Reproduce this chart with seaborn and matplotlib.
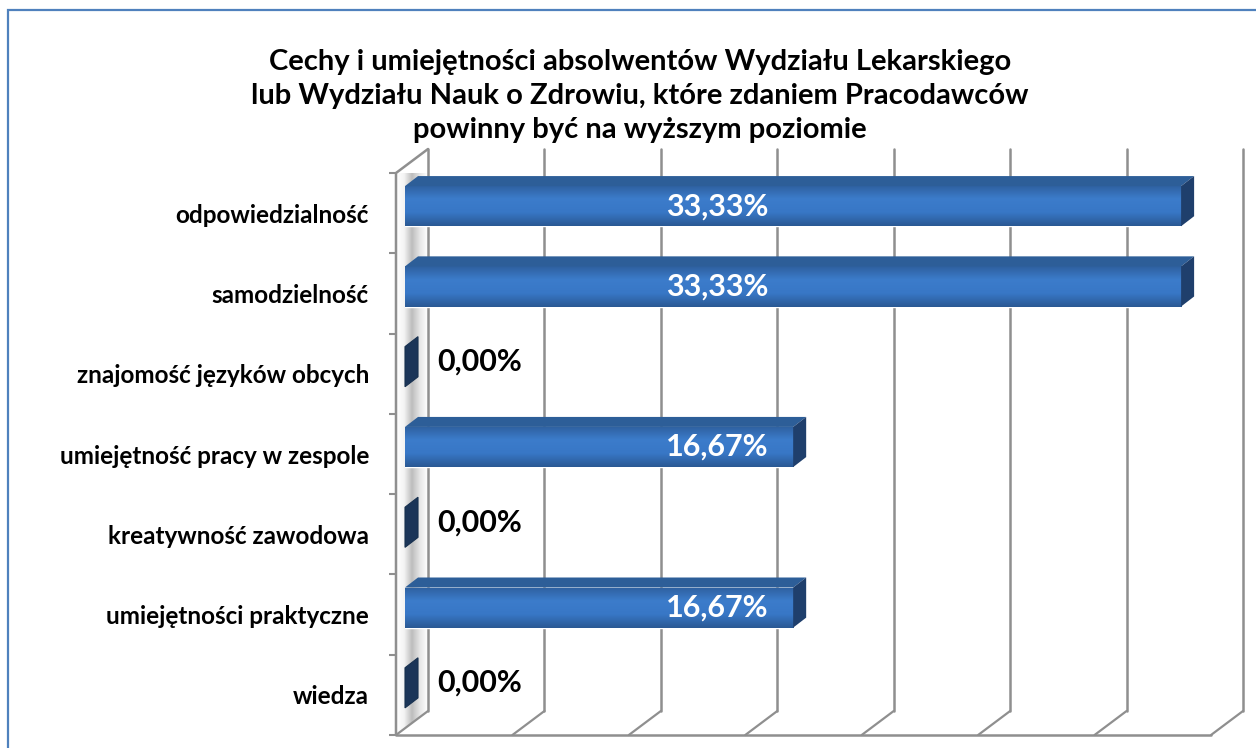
import matplotlib.pyplot as plt
import numpy as np
import pandas as pd
import seaborn as sns
from matplotlib.colors import LinearSegmentedColormap
from matplotlib.patches import Polygon, Rectangle

# dane z wykresu
categories = [
    "odpowiedzialność",
    "samodzielność",
    "znajomość języków obcych",
    "umiejętność pracy w zespole",
    "kreatywność zawodowa",
    "umiejętności praktyczne",
    "wiedza",
]
values = [33.33, 33.33, 0.00, 16.67, 0.00, 16.67, 0.00]
grid_values = [0, 5, 10, 15, 20, 25, 30, 35]
title = ("Cechy i umiejętności absolwentów Wydziału Lekarskiego\n"
         "lub Wydziału Nauk o Zdrowiu, które zdaniem Pracodawców\n"
         "powinny być na wyższym poziomie")

W, H = 1256, 748
sns.set_theme(style="white")
plt.rcParams["font.family"] = ["Lato", "DejaVu Sans"]
plt.rcParams["text.color"] = "black"

fig = plt.figure(figsize=(W / 100, H / 100), dpi=100)
fig.patch.set_facecolor("white")

# przednia płaszczyzna "pudełka" 3D w pikselach
x0_px, x1_px = 396, 1211
ytop_px, ybot_px = 173, 735
ax = fig.add_axes([x0_px / W, 1 - ybot_px / H, (x1_px - x0_px) / W, (ybot_px - ytop_px) / H])
xmax = grid_values[-1]
n = len(categories)
sx = (x1_px - x0_px) / xmax
sy = (ybot_px - ytop_px) / n


def off(dx_px, dy_px):
    return dx_px / sx, dy_px / sy


wdx, wdy = off(32, -24)   # głębokość ściany
bdx, bdy = off(9, -7)     # przód słupka względem przodu pudełka
ddx, ddy = off(13, -10)   # głębokość słupka

df = pd.DataFrame({"cecha": categories, "wartosc": values})
sns.barplot(data=df, y="cecha", x="wartosc", orient="h", width=0.5,
            color="#3572c0", saturation=1, ax=ax, zorder=5)

ax.set_xlim(0, xmax)
ax.set_ylim(n - 0.5, -0.5)
for s in ax.spines.values():
    s.set_visible(False)
ax.set_xticks([])
ax.set_xlabel("")
ax.set_ylabel("")
ax.patch.set_alpha(0)

grid_c = "#8f8f8f"
ybot, ytop = n - 0.5, -0.5

# lewa ściana z cieniem
wall = Polygon([(0, ybot), (0, ytop), (wdx, ytop + wdy), (wdx, ybot + wdy)],
               closed=True, facecolor="none", edgecolor="none", clip_on=False)
ax.add_patch(wall)
shade = LinearSegmentedColormap.from_list("sh", ["#ffffff", "#f4f4f4", "#bdbdbd", "#e6e6e6", "#ffffff"])
im = ax.imshow(np.linspace(0, 1, 50)[None, :], cmap=shade, aspect="auto",
               extent=(0, wdx, ybot + 0.05, ytop + wdy), clip_on=True, zorder=1)
im.set_clip_path(wall)
ax.plot([0, 0, wdx], [ybot, ytop, ytop + wdy], color=grid_c, lw=1.8, clip_on=False, zorder=2)

# siatka na tylnej ścianie i podłodze
for v in grid_values:
    ax.plot([v + wdx, v + wdx], [ybot + wdy, ytop + wdy], color=grid_c, lw=1.8,
            clip_on=False, zorder=2)
    ax.plot([v, v + wdx], [ybot, ybot + wdy], color=grid_c, lw=1.6, clip_on=False, zorder=2)
ax.plot([0, xmax], [ybot, ybot], color=grid_c, lw=1.8, clip_on=False, zorder=2)
ax.set_xlim(0, xmax)
ax.set_ylim(n - 0.5, -0.5)

# słupki 3D
front = LinearSegmentedColormap.from_list("fr", ["#2e609f", "#3c7ccb", "#3877c6", "#2a5994"])
for p in ax.patches:
    if not isinstance(p, Rectangle) or p is wall:
        continue
    p.set_x(p.get_x() + bdx)
    p.set_y(p.get_y() + bdy)
    x, y, w, h = p.get_x(), p.get_y(), p.get_width(), p.get_height()
    if w > 0:
        g = ax.imshow(np.linspace(0, 1, 60)[:, None], cmap=front, aspect="auto",
                      extent=(x, x + w, y + h, y), zorder=6)
        g.set_clip_path(p)
        top = Polygon([(x, y), (x + w, y), (x + w + ddx, y + ddy), (x + ddx, y + ddy)],
                      closed=True, facecolor="#2d5e98", edgecolor="none", zorder=6)
        ax.add_patch(top)
    side = Polygon([(x + w, y), (x + w, y + h), (x + w + ddx, y + h + ddy), (x + w + ddx, y + ddy)],
                   closed=True, facecolor="#1f3f6c" if w > 0 else "#1b3558",
                   edgecolor="#17304f" if w == 0 else "none", lw=0.8, zorder=6)
    ax.add_patch(side)

ax.set_xlim(0, xmax)
ax.set_ylim(n - 0.5, -0.5)

# etykiety wartości
for i, v in enumerate(values):
    txt = f"{v:.2f}%".replace(".", ",")
    if v > 0:
        ax.text(13.4 + bdx, i + bdy, txt, ha="center", va="center", color="white",
                fontsize=22, fontweight="bold", zorder=8)
    else:
        ax.text(1.76, i - 12 / sy, txt, ha="left", va="center", color="black",
                fontsize=22, fontweight="bold", zorder=8)

# oś kategorii
ax.set_yticks(range(n))
ax.set_yticklabels(categories, fontsize=17.5, fontweight="bold", color="black")
ax.set_yticks(np.arange(-0.5, n, 1), minor=True)
ax.tick_params(axis="y", which="major", length=0, pad=19.5, left=False)
ax.tick_params(axis="y", which="minor", length=5, width=1.5, color=grid_c, left=True)

fig.text(640 / W, 1 - 96 / H, title, ha="center", va="center", fontsize=21,
         fontweight="bold", linespacing=1.38, color="black")

fig.patches.append(Rectangle((8 / W, -0.1), 1.2, 1.1 - 10 / H, transform=fig.transFigure,
                             fill=False, edgecolor="#4f81bd", lw=1.6))

fig.savefig("out.png", dpi=100)
